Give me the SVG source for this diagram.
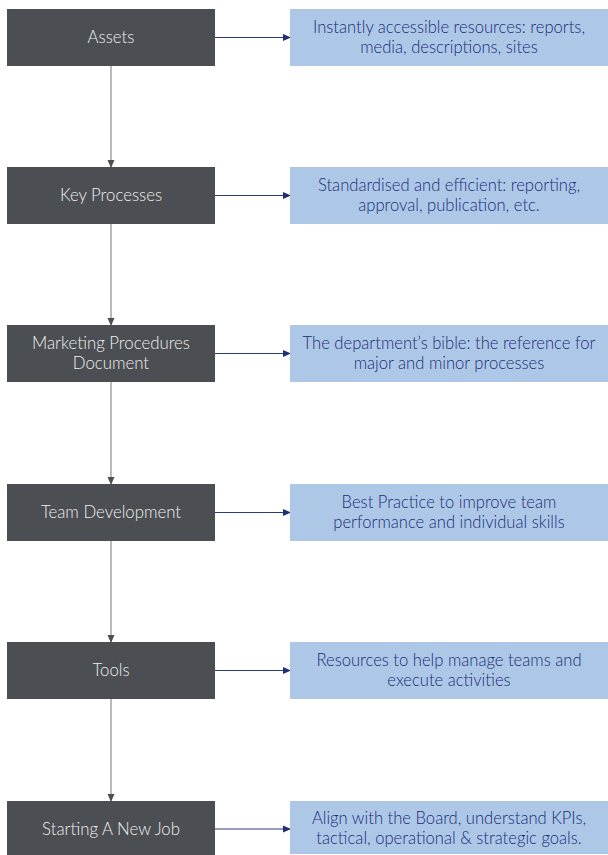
<svg xmlns="http://www.w3.org/2000/svg" width="608" height="855" viewBox="0 0 608 855">
<style>
.l{fill:#4b4e53}
.r{fill:#adc8e7}
.lt{font-family:Lato,"Open Sans","Liberation Sans",sans-serif;font-weight:300;font-size:16.8px;fill:#eeeeee;text-anchor:middle}
.rt{font-family:Lato,"Open Sans","Liberation Sans",sans-serif;font-weight:300;font-size:16.6px;fill:#1c2b78;text-anchor:middle}
.h{stroke:#2b3d82;stroke-width:1;fill:none}
.v{stroke:#a3a3a3;stroke-width:1.5;fill:none}
</style>
<defs>
<marker id="ah" markerWidth="8" markerHeight="8" refX="7" refY="4" orient="auto" markerUnits="userSpaceOnUse"><path d="M0,0.5 L8,4 L0,7.5 Z" fill="#1f2f7c"/></marker>
<marker id="av" markerWidth="8" markerHeight="8" refX="7" refY="4" orient="auto" markerUnits="userSpaceOnUse"><path d="M0,0.5 L8,4 L0,7.5 Z" fill="#4b4e53"/></marker>
</defs>
<g id="connectors">
<path class="h" d="M215,37.5 H290" marker-end="url(#ah)"/>
<path class="h" d="M215,195.5 H290" marker-end="url(#ah)"/>
<path class="h" d="M215,353.5 H290" marker-end="url(#ah)"/>
<path class="h" d="M215,512.5 H290" marker-end="url(#ah)"/>
<path class="h" d="M215,670.5 H290" marker-end="url(#ah)"/>
<path class="h" d="M215,829 H290" marker-end="url(#ah)"/>
<path class="v" d="M111,66 V167" marker-end="url(#av)"/>
<path class="v" d="M111,224 V325" marker-end="url(#av)"/>
<path class="v" d="M111,382 V484" marker-end="url(#av)"/>
<path class="v" d="M111,541 V642" marker-end="url(#av)"/>
<path class="v" d="M111,699 V801" marker-end="url(#av)"/>
</g>
<g id="n1"><rect class="l" x="7" y="9" width="208" height="57"/><text class="lt" x="111" y="43">Assets</text></g>
<g id="d1"><rect class="r" x="290" y="9" width="318" height="57"/><text class="rt" x="449" y="33">Instantly accessible resources: reports,</text><text class="rt" x="449" y="53">media, descriptions, sites</text></g>
<g id="n2"><rect class="l" x="7" y="167" width="208" height="57"/><text class="lt" x="111" y="201">Key Processes</text></g>
<g id="d2"><rect class="r" x="290" y="167" width="318" height="57"/><text class="rt" x="449" y="191">Standardised and efficient: reporting,</text><text class="rt" x="449" y="211">approval, publication, etc.</text></g>
<g id="n3"><rect class="l" x="7" y="325" width="208" height="57"/><text class="lt" x="111" y="349">Marketing Procedures</text><text class="lt" x="111" y="369">Document</text></g>
<g id="d3"><rect class="r" x="290" y="325" width="318" height="57"/><text class="rt" x="449" y="349">The department’s bible: the reference for</text><text class="rt" x="449" y="369">major and minor processes</text></g>
<g id="n4"><rect class="l" x="7" y="484" width="208" height="57"/><text class="lt" x="111" y="518">Team Development</text></g>
<g id="d4"><rect class="r" x="290" y="484" width="318" height="57"/><text class="rt" x="449" y="508">Best Practice to improve team</text><text class="rt" x="449" y="528">performance and individual skills</text></g>
<g id="n5"><rect class="l" x="7" y="642" width="208" height="57"/><text class="lt" x="111" y="676">Tools</text></g>
<g id="d5"><rect class="r" x="290" y="642" width="318" height="57"/><text class="rt" x="449" y="666">Resources to help manage teams and</text><text class="rt" x="449" y="686">execute activities</text></g>
<g id="n6"><rect class="l" x="7" y="801" width="208" height="54"/><text class="lt" x="111" y="835">Starting A New Job</text></g>
<g id="d6"><rect class="r" x="290" y="801" width="318" height="53"/><text class="rt" x="449" y="824">Align with the Board, understand KPIs,</text><text class="rt" x="449" y="844">tactical, operational &amp; strategic goals.</text></g>
</svg>
